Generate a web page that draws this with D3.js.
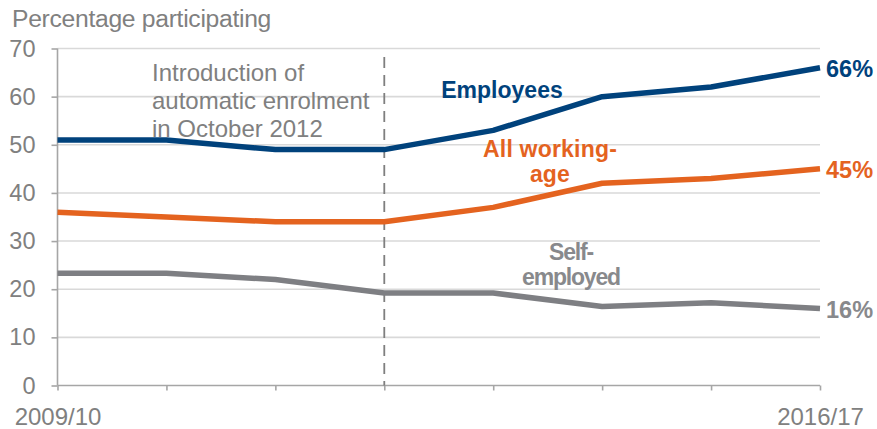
<!DOCTYPE html>
<html>
<head>
<meta charset="utf-8">
<script src="https://cdn.jsdelivr.net/npm/d3@7"></script>
<style>
  html, body { margin: 0; padding: 0; background: #fff; }
  svg { display: block; font-family: "Liberation Sans", Arial, sans-serif; }
</style>
</head>
<body>
<svg id="chart" width="877" height="429"></svg>
<script>
// Financial years on the x axis
const years = ["2009/10", "2010/11", "2011/12", "2012/13", "2013/14", "2014/15", "2015/16", "2016/17"];
// Workplace pension participation, % of each group
const employees = [51, 51, 49, 49, 53, 60, 62, 66];
const allWorkingAge = [36, 35, 34, 34, 37, 42, 43, 45];
const selfEmployed = [23.3, 23.3, 22, 19.2, 19.2, 16.4, 17.2, 16];
const yTicks = [0, 10, 20, 30, 40, 50, 60, 70];
const xLabelYears = ["2009/10", "2016/17"];

const series = [
  { name: "employees", values: employees, color: "#00427C", labelColor: "#00427C" },
  { name: "all", values: allWorkingAge, color: "#E4631F", labelColor: "#E4631F" },
  { name: "self", values: selfEmployed, color: "#7E7F83", labelColor: "#88898c" }
];

const svg = d3.select("#chart");
const plotLeft = 57.5, plotRight = 820, plotTop = 48.5, plotBottom = 385.5;

const x = d3.scalePoint().domain(years).range([plotLeft, plotRight]);
const y = d3.scaleLinear().domain([0, 70]).range([plotBottom, plotTop]);

const grey = "#808080";
const font = "Liberation Sans, Arial, sans-serif";

// Horizontal gridlines
svg.append("g")
  .selectAll("line")
  .data(yTicks.filter(d => d > 0))
  .join("line")
  .attr("x1", plotLeft).attr("x2", plotRight)
  .attr("y1", d => y(d)).attr("y2", d => y(d))
  .attr("stroke", "#d9d9d9").attr("stroke-width", 1.6);

// Y axis
const yAxis = svg.append("g")
  .attr("transform", `translate(${plotLeft},0)`)
  .call(d3.axisLeft(y).tickValues(yTicks).tickSize(6).tickPadding(16));
yAxis.select(".domain").attr("stroke", "#a6a6a6").attr("stroke-width", 1.6).attr("d", `M0,${plotTop}V${plotBottom}`);
yAxis.selectAll(".tick line").attr("stroke", "#a6a6a6").attr("stroke-width", 1.6);
yAxis.selectAll(".tick text").attr("fill", grey).attr("font-size", 23.5).attr("font-family", font);

// X axis
const xAxis = svg.append("g")
  .attr("transform", `translate(0,${plotBottom})`)
  .call(d3.axisBottom(x).tickSize(5).tickPadding(17)
    .tickFormat(d => xLabelYears.includes(d) ? d : ""));
xAxis.select(".domain").attr("stroke", "#a6a6a6").attr("stroke-width", 1.6).attr("d", `M${plotLeft},0H${plotRight}`);
xAxis.selectAll(".tick line").attr("stroke", "#a6a6a6").attr("stroke-width", 1.6);
xAxis.selectAll(".tick text").attr("fill", grey).attr("font-size", 24).attr("font-family", font);

// Axis title
svg.append("text")
  .attr("x", 12).attr("y", 27)
  .attr("fill", grey).attr("font-size", 24.7)
  .attr("letter-spacing", -0.3)
  .text("Percentage participating");

// Marker for the introduction of automatic enrolment
svg.append("line")
  .attr("x1", x("2012/13")).attr("x2", x("2012/13"))
  .attr("y1", 57).attr("y2", plotBottom)
  .attr("stroke", "#7f7f7f").attr("stroke-width", 1.8)
  .attr("stroke-dasharray", "11,7");

const note = svg.append("text")
  .attr("fill", grey).attr("font-size", 24);
["Introduction of", "automatic enrolment", "in October 2012"].forEach((t, i) => {
  note.append("tspan").attr("x", 152).attr("y", 81 + i * 28).text(t);
});

// Series lines
const line = d3.line().x((d, i) => x(years[i])).y(d => y(d));
svg.append("g")
  .selectAll("path")
  .data(series)
  .join("path")
  .attr("d", d => line(d.values))
  .attr("fill", "none")
  .attr("stroke", d => d.color)
  .attr("stroke-width", 5.5)
  .attr("stroke-linejoin", "round");

// Series names
function seriesLabel(lines, cx, y0, color, spacing) {
  const t = svg.append("text")
    .attr("fill", color).attr("font-size", 23).attr("font-weight", "bold")
    .attr("letter-spacing", spacing)
    .attr("text-anchor", "middle");
  lines.forEach((s, i) => t.append("tspan").attr("x", cx).attr("y", y0 + i * 25).text(s));
}
seriesLabel(["Employees"], 502, 98, series[0].labelColor, 0);
seriesLabel(["All working-", "age"], 550, 157, series[1].labelColor, 0.2);
seriesLabel(["Self-", "employed"], 571, 260, series[2].labelColor, -1.2);

// End-of-line values
svg.append("g")
  .selectAll("text")
  .data(series)
  .join("text")
  .attr("x", x(years[years.length - 1]) + 6)
  .attr("y", d => y(d.values[d.values.length - 1]) + 9.5)
  .attr("fill", d => d.labelColor)
  .attr("font-size", 23.5).attr("font-weight", "bold")
  .text(d => Math.round(d.values[d.values.length - 1]) + "%");
</script>
</body>
</html>
